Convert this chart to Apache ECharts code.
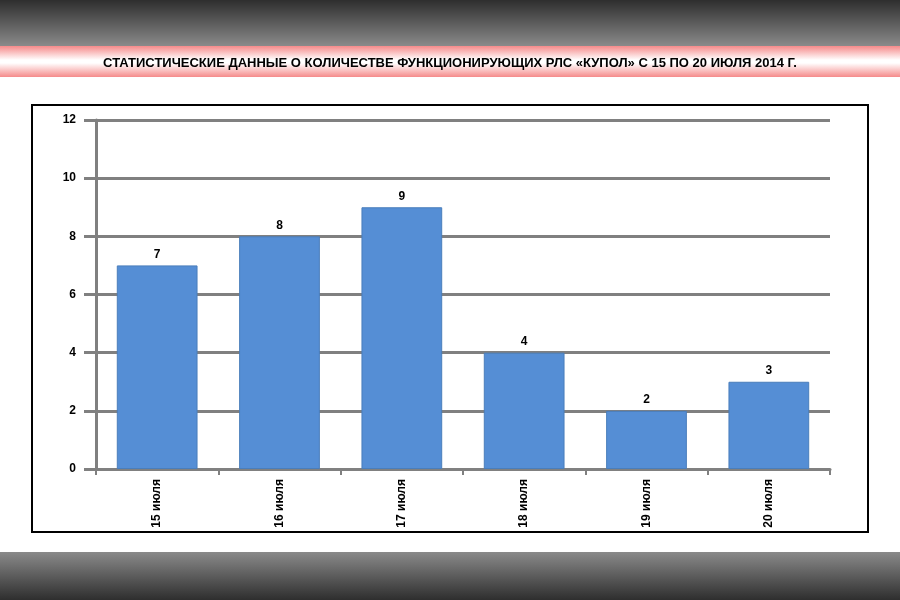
<!DOCTYPE html>
<html><head><meta charset="utf-8">
<script src="https://cdn.jsdelivr.net/npm/echarts@6/dist/echarts.min.js"></script>
<style>html,body{margin:0;padding:0;background:#fff}#c{width:900px;height:600px}</style>
</head><body><div id="c"></div>
<script>
var titleText = 'СТАТИСТИЧЕСКИЕ ДАННЫЕ О КОЛИЧЕСТВЕ ФУНКЦИОНИРУЮЩИХ РЛС «КУПОЛ» С 15 ПО 20 ИЮЛЯ 2014 Г.';
var categories = ['15 июля', '16 июля', '17 июля', '18 июля', '19 июля', '20 июля'];
var values = [7, 8, 9, 4, 2, 3];
var yTicks = {min: 0, max: 12, interval: 2};

var chart = echarts.init(document.getElementById('c'));
var font = '"Liberation Sans Narrow", "Liberation Sans", Arial, sans-serif';
chart.setOption({
  backgroundColor: '#fff',
  animation: false,
  graphic: [
    {type: 'rect', shape: {x: 0, y: 0, width: 900, height: 46}, z: -1,
     style: {fill: new echarts.graphic.LinearGradient(0, 0, 0, 1, [{offset: 0, color: '#2e2e2e'}, {offset: 1, color: '#8a8a8a'}])}},
    {type: 'rect', shape: {x: 0, y: 46, width: 900, height: 31}, z: -1,
     style: {fill: new echarts.graphic.LinearGradient(0, 0, 0, 1, [{offset: 0, color: '#f58a8a'}, {offset: 0.45, color: '#ffffff'}, {offset: 0.55, color: '#ffffff'}, {offset: 1, color: '#f58a8a'}])}},
    {type: 'rect', shape: {x: 0, y: 552, width: 900, height: 48}, z: -1,
     style: {fill: new echarts.graphic.LinearGradient(0, 0, 0, 1, [{offset: 0, color: '#8a8a8a'}, {offset: 1, color: '#2e2e2e'}])}},
    {type: 'rect', shape: {x: 32, y: 105, width: 836, height: 427}, z: -1,
     style: {fill: '#fff', stroke: '#000', lineWidth: 2}}
  ],
  title: {text: titleText, left: 'center', top: 52,
    textStyle: {fontFamily: font, fontSize: 13, fontWeight: 'bold', color: '#000'}},
  grid: {left: 96, right: 70, top: 120, bottom: 131},
  xAxis: {
    type: 'category', data: categories,
    axisLine: {lineStyle: {color: '#808080', width: 3}},
    axisTick: {show: true, length: 6, lineStyle: {color: '#808080', width: 2}},
    axisLabel: {rotate: 90, color: '#000', fontFamily: font, fontWeight: 'bold', fontSize: 12, margin: 10}
  },
  yAxis: {
    type: 'value', min: yTicks.min, max: yTicks.max, interval: yTicks.interval,
    axisLine: {show: true, lineStyle: {color: '#808080', width: 3}},
    axisTick: {show: true, length: 12, lineStyle: {color: '#808080', width: 3}},
    splitLine: {lineStyle: {color: '#808080', width: 3}},
    axisLabel: {color: '#000', fontFamily: font, fontWeight: 'bold', fontSize: 12, margin: 20}
  },
  series: [{
    type: 'bar', data: values, barWidth: '66%',
    itemStyle: {color: '#558ed5', borderColor: '#4a7ebb', borderWidth: 1},
    label: {show: true, position: 'top', color: '#000', fontFamily: font, fontWeight: 'bold', fontSize: 12}
  }]
});
</script></body></html>
